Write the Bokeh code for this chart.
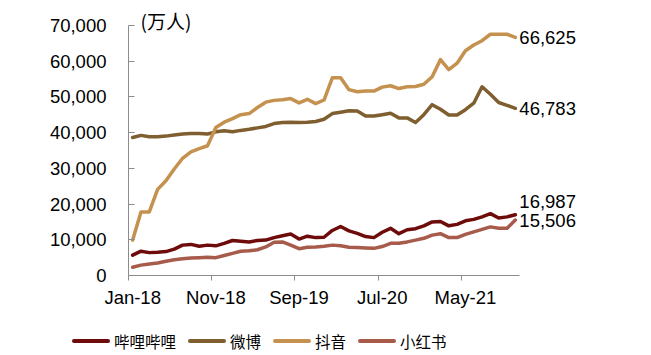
from bokeh.plotting import figure
from bokeh.layouts import column
from bokeh.models import (LinearAxis, FixedTicker, NumeralTickFormatter, Range1d,
                          Label, ColumnDataSource, Div)
from bokeh.embed import file_html
from bokeh.resources import INLINE

# ---- data (万人), monthly Jan-18 .. Nov-21 ----
bilibili = [5700, 6800, 6400, 6500, 6700, 7400, 8500, 8700, 8200, 8500,
            8300, 9000, 9800, 9600, 9400, 9800, 9900, 10600, 11100, 11600,
            10200, 11000, 10600, 10700, 12600, 13700, 12500, 11800, 10900, 10600,
            12100, 13200, 11700, 12800, 13100, 13900, 15000, 15100, 13900, 14300,
            15300, 15700, 16400, 17300, 16100, 16400, 16987]
weibo = [38600, 39200, 38800, 38800, 39000, 39300, 39600, 39700, 39700, 39600,
         40200, 40500, 40200, 40600, 40900, 41300, 41700, 42500, 42800, 42900,
         42800, 42900, 43100, 43700, 45300, 45700, 46100, 46000, 44600, 44600,
         45000, 45400, 44100, 44100, 42800, 45000, 47800, 46500, 44900, 44900,
         46400, 48200, 52800, 50700, 48400, 47600, 46783]
douyin = [9900, 17800, 17800, 24100, 26500, 29800, 32800, 34600, 35500, 36300,
          41400, 42900, 43900, 45000, 45300, 47000, 48500, 49000, 49200, 49500,
          48300, 49300, 48100, 49100, 55300, 55300, 52000, 51400, 51600, 51600,
          52700, 53100, 52300, 52800, 52900, 53500, 55600, 60400, 57600, 59400,
          62900, 64500, 65700, 67500, 67500, 67500, 66625]
xhs = [2300, 2900, 3200, 3500, 4000, 4400, 4700, 4900, 5000, 5100,
       5000, 5600, 6200, 6800, 6900, 7200, 8000, 9300, 9400, 8500,
       7500, 7900, 8000, 8200, 8500, 8300, 7900, 7800, 7700, 7600,
       8100, 9000, 9000, 9400, 9900, 10400, 11300, 11700, 10600, 10600,
       11500, 12200, 12900, 13600, 13200, 13200, 15506]

names = ["哔哩哔哩", "微博", "抖音", "小红书"]
colors = ["#6E0B0B", "#7F5E2F", "#C4914F", "#A65B4B"]
tick_idx = [0, 10, 20, 30, 40]
tick_labels = ["Jan-18", "Nov-18", "Sep-19", "Jul-20", "May-21"]
y_ticks = [0, 10000, 20000, 30000, 40000, 50000, 60000, 70000]
y_max = 70000
unit_label = "(万人)"

n = len(bilibili)
x = list(range(n))

NUM_FONT = "Liberation Sans"
CJK_FONT = "Noto Sans CJK SC"
AX_COLOR = "#8C8C8C"
LW = 3.5

# ---- layout (pixels) ----
W = 651
H_MAIN, H_LEG = 310, 45
LEFT, BOTTOM = 128, 33
AXIS_W = 391                    # length of the x axis line
AXIS_TOP = 25                   # pixel of y = y_max
frame_w = W - LEFT
frame_h = H_MAIN - BOTTOM
x_start = -0.5
x_end = x_start + n * frame_w / AXIS_W
y_end = y_max * frame_h / (frame_h - AXIS_TOP)

p = figure(width=W, height=H_MAIN, output_backend="svg", toolbar_location=None,
           x_axis_type=None, y_axis_type=None,
           x_range=Range1d(x_start, x_end), y_range=Range1d(0, y_end),
           min_border_left=LEFT, min_border_right=0, min_border_top=0,
           min_border_bottom=BOTTOM)
p.outline_line_color = None
p.grid.visible = False
p.background_fill_color = "white"
p.border_fill_color = "white"

# y axis
yax = LinearAxis(ticker=FixedTicker(ticks=y_ticks),
                 formatter=NumeralTickFormatter(format="0,0"),
                 bounds=(0, y_max))
yax.major_tick_in = 6
yax.major_tick_out = 0
yax.minor_tick_line_color = None
yax.axis_line_color = AX_COLOR
yax.major_tick_line_color = AX_COLOR
yax.major_label_standoff = 22
yax.major_label_text_font = NUM_FONT
yax.major_label_text_font_size = "18.5px"
yax.major_label_text_color = "black"
p.add_layout(yax, "left")

# x axis: tick marks at category boundaries
xtick = LinearAxis(ticker=FixedTicker(ticks=[i - 0.5 for i in tick_idx]),
                   bounds=(-0.5, n - 0.5))
xtick.major_tick_out = 5
xtick.major_tick_in = 0
xtick.minor_tick_line_color = None
xtick.axis_line_color = AX_COLOR
xtick.major_tick_line_color = AX_COLOR
xtick.major_label_text_font_size = "0px"
xtick.major_label_text_alpha = 0
xtick.major_label_standoff = 0
p.add_layout(xtick, "below")

# x axis: labels at category centres
xlab = LinearAxis(ticker=FixedTicker(ticks=tick_idx),
                  major_label_overrides={i: t for i, t in zip(tick_idx, tick_labels)})
xlab.axis_line_color = None
xlab.major_tick_line_color = None
xlab.minor_tick_line_color = None
xlab.major_tick_out = 0
xlab.major_tick_in = 0
xlab.major_label_standoff = 6
xlab.major_label_text_font = NUM_FONT
xlab.major_label_text_font_size = "18.5px"
xlab.major_label_text_color = "black"
p.add_layout(xlab, "below")

series = [bilibili, weibo, douyin, xhs]
for col, ys in zip(colors, series):
    src = ColumnDataSource(dict(x=x, y=ys))
    p.line("x", "y", source=src, line_color=col, line_width=LW,
           line_join="round", line_cap="round")

# end labels
end_offsets = [13, 0, 0, 0]
for ys, dy in zip(series, end_offsets):
    p.add_layout(Label(x=n - 1, y=ys[-1], text=f"{ys[-1]:,}", x_offset=4,
                       y_offset=dy, text_baseline="middle", text_align="left",
                       text_font=NUM_FONT, text_font_size="18.5px",
                       text_color="black"))

p.add_layout(Label(x=-0.5, y=y_max, text=unit_label, x_offset=12, y_offset=5,
                   text_baseline="middle", text_align="left",
                   text_font=CJK_FONT, text_font_size="19px", text_color="black"))

# ---- legend strip (HTML) below the plot ----
item_html = "".join(
    f'<span style="display:inline-flex;align-items:center;margin-right:12px;">'
    f'<span style="display:inline-block;width:38px;height:4px;border-radius:2px;'
    f'background:{col};margin-right:4px;"></span>'
    f'<span>{name}</span></span>'
    for name, col in zip(names, colors))
legend_html = (
    f'<div style="width:{W}px;height:{H_LEG}px;box-sizing:border-box;'
    f'padding:16px 0 0 72px;font-family:\'{CJK_FONT}\';font-size:15.5px;'
    f'line-height:20px;color:black;white-space:nowrap;display:flex;'
    f'align-items:center;">{item_html}</div>')
leg = Div(text=legend_html, width=W, height=H_LEG, margin=(0, 0, 0, 0))

layout = column(p, leg, spacing=0)
open("out.html", "w").write(file_html(layout, INLINE))
